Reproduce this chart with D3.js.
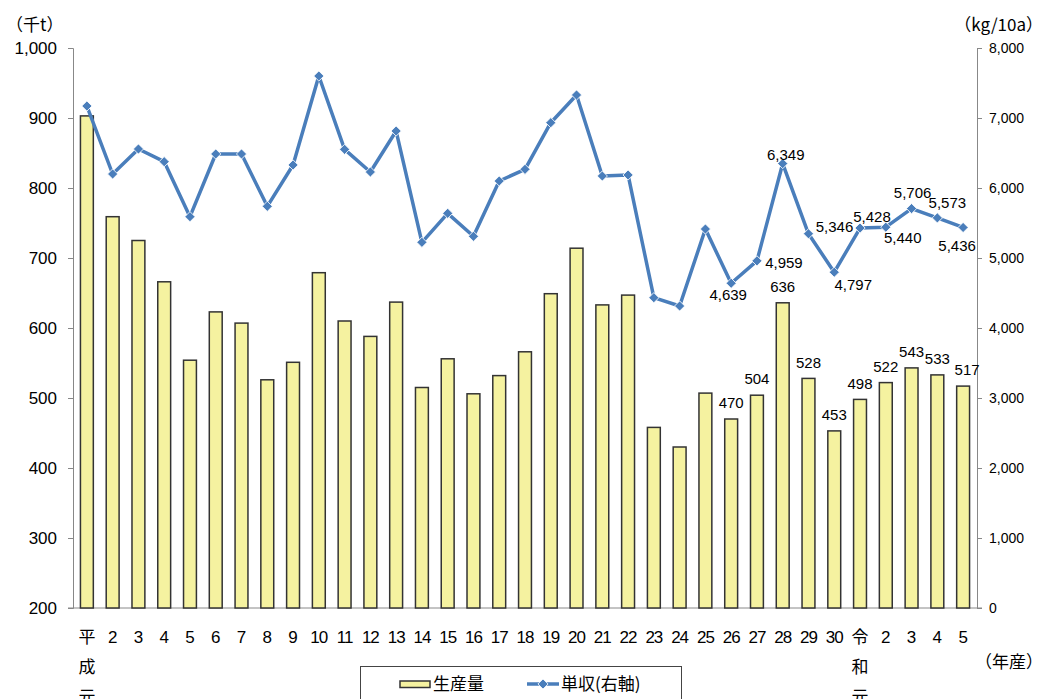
<!DOCTYPE html>
<html>
<head>
<meta charset="utf-8">
<script src="https://cdn.jsdelivr.net/npm/d3@7"></script>
<style>
  body { margin: 0; background: #fff; }
  svg text { font-family: "Liberation Sans", Arial, "Noto Sans CJK JP", sans-serif; fill: #000; }
  .jp { font-family: "Noto Sans CJK JP", sans-serif; }
</style>
</head>
<body>
<div id="chart"></div>
<script>

// categories (年産)
var years = ["平成元", "2", "3", "4", "5", "6", "7", "8", "9", "10",
    "11", "12", "13", "14", "15", "16", "17", "18", "19", "20",
    "21", "22", "23", "24", "25", "26", "27", "28", "29", "30",
    "令和元", "2 ", "3 ", "4 ", "5 "];

// 生産量 (千t)
var production = [903, 759, 725, 666, 554, 623, 607, 526, 551, 679,
    610, 588, 637, 515, 556, 506, 532, 566, 649, 714,
    633, 647, 458, 430, 507, 470, 504, 636, 528, 453,
    498, 522, 543, 533, 517];

// 単収 (kg/10a)
var yieldPer10a = [7171, 6200, 6557, 6376, 5590, 6486, 6486, 5738, 6329, 7600,
    6552, 6229, 6814, 5224, 5638, 5310, 6100, 6267, 6933, 7329,
    6171, 6186, 4433, 4314, 5414, 4639, 4959, 6349, 5346, 4797,
    5428, 5440, 5706, 5573, 5436];

var leftTicks = [200, 300, 400, 500, 600, 700, 800, 900, 1000];
var rightTicks = [0, 1000, 2000, 3000, 4000, 5000, 6000, 7000, 8000];

// first labelled year (平成26)
var labelFrom = 25;

var width = 1045, height = 699;
var margin = { left: 74, right: 69, top: 48, bottom: 91 };

var svg = d3.select("#chart")
    .append("svg")
    .attr("width", width)
    .attr("height", height);

var x = d3.scaleBand()
    .domain(years)
    .range([margin.left, width - margin.right])
    .paddingInner(0.5)
    .paddingOuter(0.25);

var yL = d3.scaleLinear()
    .domain([200, 1000])
    .range([height - margin.bottom, margin.top]);

var yR = d3.scaleLinear()
    .domain([0, 8000])
    .range([height - margin.bottom, margin.top]);

var cx = function (d, i) { return x(years[i]) + x.bandwidth() / 2; };

// left axis
var yaxisL = svg.append("g")
    .attr("transform", "translate(" + (margin.left - 1) + ",0)")
    .call(d3.axisLeft(yL).tickValues(leftTicks).tickSize(5).tickPadding(11)
        .tickFormat(d3.format(",")));

yaxisL.selectAll("line").style("stroke", "#888");
yaxisL.selectAll("path").style("stroke", "#888");
yaxisL.selectAll("text").style("font-size", "17px").style("fill", "#000");

// right axis
var yaxisR = svg.append("g")
    .attr("transform", "translate(" + (width - margin.right + 1) + ",0)")
    .call(d3.axisRight(yR).tickValues(rightTicks).tickSize(5).tickPadding(7)
        .tickFormat(d3.format(",")));

yaxisR.selectAll("line").style("stroke", "#888");
yaxisR.selectAll("path").style("stroke", "#888");
yaxisR.selectAll("text").style("font-size", "14px").style("fill", "#000");

// bottom baseline
svg.append("line")
    .attr("x1", margin.left - 6)
    .attr("x2", width - margin.right + 6)
    .attr("y1", yL(200))
    .attr("y2", yL(200))
    .style("stroke", "#888");

// x labels (era names stacked vertically)
var xl = svg.append("g");
years.forEach(function (d, i) {
    var label = d.trim();
    var chars = label.length > 2 ? label.split("") : [label];
    chars.forEach(function (c, j) {
        xl.append("text")
            .attr("class", label.length > 2 ? "jp" : null)
            .attr("x", cx(d, i))
            .attr("y", 643 + j * 30)
            .attr("text-anchor", "middle")
            .style("font-size", "17px")
            .style("letter-spacing", label.length == 2 ? "-1px" : "0")
            .text(c);
    });
});

// bars
svg.append("g")
    .selectAll("rect")
    .data(production)
    .enter()
    .append("rect")
    .attr("x", function (d, i) { return x(years[i]); })
    .attr("y", function (d) { return yL(d); })
    .attr("width", x.bandwidth())
    .attr("height", function (d) { return yL(200) - yL(d); })
    .attr("fill", "#F5F2A0")
    .attr("stroke", "#333")
    .attr("stroke-width", 1.5);

// line
svg.append("path")
    .datum(yieldPer10a)
    .attr("fill", "none")
    .attr("stroke", "#4A7EBB")
    .attr("stroke-width", 3.5)
    .attr("stroke-linejoin", "round")
    .attr("d", d3.line()
        .x(function (d, i) { return cx(d, i); })
        .y(function (d) { return yR(d); }));

svg.append("g")
    .selectAll("rect")
    .data(yieldPer10a)
    .enter()
    .append("rect")
    .attr("x", -3.6)
    .attr("y", -3.6)
    .attr("width", 7.2)
    .attr("height", 7.2)
    .attr("transform", function (d, i) {
        return "translate(" + cx(d, i) + "," + yR(d) + ") rotate(45)";
    })
    .attr("fill", "#4A7EBB")
    .attr("stroke", "#fff")
    .attr("stroke-width", 0.8);

// data labels (offset of label centre from point)
var lineLabelOffset = {
    25: [-3, 11], 26: [27, 2], 27: [3, -9], 28: [26, -7], 29: [19, 13],
    30: [12, -11], 31: [17, 11], 32: [1, -16], 33: [10, -15], 34: [-6, 18]
};
var barLabelOffset = { 34: 4 };

var fmt = d3.format(",");

svg.append("g")
    .selectAll("text")
    .data(yieldPer10a.slice(labelFrom))
    .enter()
    .append("text")
    .attr("x", function (d, i) { var k = i + labelFrom; return cx(d, k) + lineLabelOffset[k][0]; })
    .attr("y", function (d, i) { var k = i + labelFrom; return yR(d) + lineLabelOffset[k][1]; })
    .attr("dy", "0.35em")
    .attr("text-anchor", "middle")
    .style("font-size", "15px")
    .text(function (d) { return fmt(d); });

svg.append("g")
    .selectAll("text")
    .data(production.slice(labelFrom))
    .enter()
    .append("text")
    .attr("x", function (d, i) { var k = i + labelFrom; return cx(d, k) + (barLabelOffset[k] || 0); })
    .attr("y", function (d) { return yL(d) - 16; })
    .attr("dy", "0.35em")
    .attr("text-anchor", "middle")
    .style("font-size", "15px")
    .text(function (d) { return fmt(d); });

// units
svg.append("text").attr("class", "jp")
    .attr("x", 6).attr("y", 31)
    .style("font-size", "17px")
    .text("（千t）");

svg.append("text").attr("class", "jp")
    .attr("x", 1043).attr("y", 31)
    .attr("text-anchor", "end")
    .style("font-size", "17px")
    .text("（kg/10a）");

svg.append("text").attr("class", "jp")
    .attr("x", 1043).attr("y", 668)
    .attr("text-anchor", "end")
    .style("font-size", "17px")
    .text("（年産）");

// legend
var legend = svg.append("g");

legend.append("rect")
    .attr("x", 360.5).attr("y", 666.5)
    .attr("width", 321).attr("height", 40)
    .attr("fill", "#fff")
    .attr("stroke", "#444");

legend.append("rect")
    .attr("x", 400).attr("y", 681)
    .attr("width", 30).attr("height", 6.5)
    .attr("fill", "#F5F2A0")
    .attr("stroke", "#333")
    .attr("stroke-width", 1.5);

legend.append("text").attr("class", "jp")
    .attr("x", 433).attr("y", 690)
    .style("font-size", "17px")
    .text("生産量");

legend.append("line")
    .attr("x1", 527).attr("x2", 559)
    .attr("y1", 684).attr("y2", 684)
    .attr("stroke", "#4A7EBB")
    .attr("stroke-width", 3.5);

legend.append("rect")
    .attr("x", -3.6).attr("y", -3.6)
    .attr("width", 7.2).attr("height", 7.2)
    .attr("transform", "translate(543,684) rotate(45)")
    .attr("fill", "#4A7EBB")
    .attr("stroke", "#fff")
    .attr("stroke-width", 0.8);

legend.append("text").attr("class", "jp")
    .attr("x", 561).attr("y", 690)
    .style("font-size", "17px")
    .text("単収(右軸)");

</script>
</body>
</html>
